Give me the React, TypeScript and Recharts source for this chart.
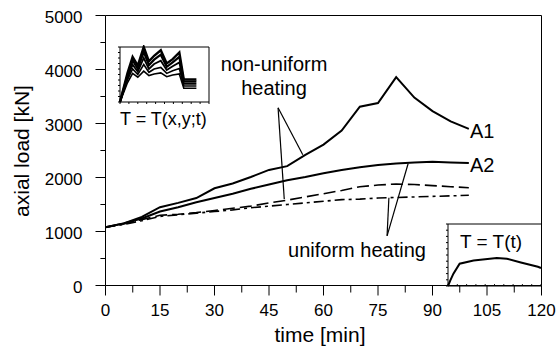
import { LineChart, Line, XAxis, YAxis, ReferenceLine } from "recharts";

// main chart: axial load of the two columns
const time = [0, 5, 10, 15, 20, 25, 30, 35, 40, 45, 50, 55, 60, 65, 70, 75, 80, 85, 90, 95, 100];
const nonUniformA1 = [1080, 1150, 1270, 1450, 1530, 1620, 1800, 1890, 2010, 2140, 2210, 2420, 2610, 2870, 3310, 3380, 3860, 3480, 3230, 3040, 2900];
const nonUniformA2 = [1080, 1150, 1240, 1370, 1450, 1540, 1620, 1700, 1790, 1870, 1950, 2010, 2080, 2140, 2190, 2230, 2260, 2280, 2290, 2280, 2270];
const uniformA1 = [1080, 1140, 1220, 1300, 1320, 1350, 1390, 1430, 1470, 1530, 1580, 1640, 1700, 1760, 1830, 1860, 1880, 1870, 1850, 1830, 1810];
const uniformA2 = [1080, 1130, 1200, 1280, 1310, 1340, 1370, 1400, 1440, 1470, 1500, 1530, 1560, 1590, 1600, 1620, 1630, 1640, 1650, 1660, 1670];

const xTicks = [0, 7.5, 15, 22.5, 30, 37.5, 45, 52.5, 60, 67.5, 75, 82.5, 90, 97.5, 105, 112.5, 120];
const yTicks = [0, 500, 1000, 1500, 2000, 2500, 3000, 3500, 4000, 4500, 5000];

// inset 1: temperature T(x,y;t), five fibres
const insetTime = [0, 10, 17, 24, 32, 39, 46, 55, 63, 71, 80, 86, 103];
const fibre1 = [0, 52, 82, 66, 100, 74, 84, 94, 70, 78, 90, 41, 41];
const fibre2 = [0, 48, 76, 60, 91, 67, 77, 86, 64, 72, 82, 37, 37];
const fibre3 = [0, 44, 68, 55, 80, 60, 69, 75, 58, 65, 72, 33, 33];
const fibre4 = [0, 40, 60, 50, 68, 54, 60, 63, 52, 57, 61, 29, 29];
const fibre5 = [0, 35, 52, 45, 56, 48, 51, 53, 46, 49, 51, 25, 25];

// inset 2: uniform temperature T(t)
const uniformTime = [0, 3, 7, 15, 33, 63, 76, 94, 116, 120];
const uniformTemp = [0, 9, 20, 36, 41, 45, 44, 38, 31, 29];

const insetTicks = [0, 12, 24, 36, 48, 60, 72, 84, 96, 108, 120];
const insetYTicks = [0, 10, 20, 30, 40, 50, 60, 70, 80, 90, 100];

const mainData = time.map((t, i) => ({
  t,
  a1: nonUniformA1[i],
  a2: nonUniformA2[i],
  u1: uniformA1[i],
  u2: uniformA2[i],
}));
const insetData = insetTime.map((t, i) => ({
  t,
  f1: fibre1[i],
  f2: fibre2[i],
  f3: fibre3[i],
  f4: fibre4[i],
  f5: fibre5[i],
}));
const uniformData = uniformTime.map((t, i) => ({ t, T: uniformTemp[i] }));

const FONT = "'Liberation Sans', Arial, sans-serif";

// tick marks are drawn as reference segments below / left of the axes
const X_MAJOR = 185; // ~10px in kN
const X_MINOR = 130;
const Y_MAJOR = 2.75; // ~10px in min
const Y_MINOR = 1.4;

const renderXTick = (props: any) => {
  const { x, y, payload } = props;
  if (payload.value % 15 !== 0) return <g />;
  return (
    <text x={x} y={y + 30} textAnchor="middle" fontSize={17} fill="#000" fontFamily={FONT}>
      {payload.value}
    </text>
  );
};

const renderYTick = (props: any) => {
  const { x, y, payload } = props;
  if (payload.value % 1000 !== 0) return <g />;
  return (
    <text x={x - 23} y={y + 7} textAnchor="end" fontSize={17} fill="#000" fontFamily={FONT}>
      {payload.value}
    </text>
  );
};

function FibreInset() {
  return (
    <div style={{ position: "absolute", left: 114, top: 45 }}>
      <LineChart width={97} height={61} data={insetData} margin={{ top: 2, right: 2, left: 0, bottom: 0 }}>
        <XAxis dataKey="t" type="number" domain={[0, 120]} height={4} tick={false} tickLine={false} axisLine={{ stroke: "#000" }} />
        <YAxis type="number" domain={[0, 100]} width={6} tick={false} tickLine={false} axisLine={{ stroke: "#000" }} />
        <ReferenceLine y={100} stroke="#000" />
        <ReferenceLine x={120} stroke="#000" />
        {insetTicks.map((t) => (
          <ReferenceLine key={`it${t}`} segment={[{ x: t, y: 0 }, { x: t, y: -3.6 }]} ifOverflow="visible" stroke="#000" />
        ))}
        {insetYTicks.map((v) => (
          <ReferenceLine key={`iv${v}`} segment={[{ x: 0, y: v }, { x: -2.7, y: v }]} ifOverflow="visible" stroke="#000" />
        ))}
        <Line dataKey="f5" stroke="#000" strokeWidth={1.6} dot={false} isAnimationActive={false} />
        <Line dataKey="f4" stroke="#000" strokeWidth={1.6} dot={false} isAnimationActive={false} />
        <Line dataKey="f3" stroke="#000" strokeWidth={1.8} dot={false} isAnimationActive={false} />
        <Line dataKey="f2" stroke="#000" strokeWidth={2.2} dot={false} isAnimationActive={false} />
        <Line dataKey="f1" stroke="#000" strokeWidth={2.4} dot={false} isAnimationActive={false} />
      </LineChart>
    </div>
  );
}

function UniformInset() {
  return (
    <div style={{ position: "absolute", left: 442, top: 222 }}>
      <LineChart width={100} height={68} data={uniformData} margin={{ top: 2, right: 1, left: 0, bottom: 0 }}>
        <XAxis dataKey="t" type="number" domain={[0, 120]} height={4} tick={false} tickLine={false} axisLine={{ stroke: "#000" }} />
        <YAxis type="number" domain={[0, 100]} width={6} tick={false} tickLine={false} axisLine={{ stroke: "#000" }} />
        <ReferenceLine y={100} stroke="#000" />
        {insetYTicks.map((v) => (
          <ReferenceLine key={`uv${v}`} segment={[{ x: 0, y: v }, { x: -2.6, y: v }]} ifOverflow="visible" stroke="#000" />
        ))}
        {insetTicks.map((t) => (
          <ReferenceLine key={`ut${t}`} segment={[{ x: t, y: 0 }, { x: t, y: 3 }]} stroke="#000" />
        ))}
        <Line dataKey="T" stroke="#000" strokeWidth={2} dot={false} isAnimationActive={false} />
      </LineChart>
    </div>
  );
}

export default function App() {
  return (
    <div style={{ position: "absolute", left: 0, top: 0, width: 556, height: 352, background: "#fff", fontFamily: FONT }}>
      <LineChart width={556} height={352} data={mainData} margin={{ top: 15.5, right: 14.5, left: 0, bottom: 0 }}>
        <XAxis
          dataKey="t"
          type="number"
          domain={[0, 120]}
          ticks={xTicks}
          interval={0}
          height={66.5}
          tickSize={0}
          tickMargin={0}
          tickLine={false}
          tick={renderXTick}
          axisLine={{ stroke: "#000" }}
        />
        <YAxis
          type="number"
          domain={[0, 5000]}
          ticks={yTicks}
          interval={0}
          width={105.5}
          tickSize={0}
          tickMargin={0}
          tickLine={false}
          tick={renderYTick}
          axisLine={{ stroke: "#000" }}
        />
        <ReferenceLine y={5000} stroke="#000" />
        <ReferenceLine x={120} stroke="#000" />

        {xTicks.map((t) => (
          <ReferenceLine
            key={`xt${t}`}
            segment={[{ x: t, y: 0 }, { x: t, y: t % 15 === 0 ? -X_MAJOR : -X_MINOR }]}
            ifOverflow="visible"
            stroke="#000"
          />
        ))}
        {yTicks.map((v) => (
          <ReferenceLine
            key={`yt${v}`}
            segment={[{ x: 0, y: v }, { x: v % 1000 === 0 ? -Y_MAJOR : -Y_MINOR, y: v }]}
            ifOverflow="visible"
            stroke="#000"
          />
        ))}

        <ReferenceLine segment={[{ x: 47.5, y: 3290 }, { x: 54.3, y: 2420 }]} stroke="#000" strokeWidth={1.2} />
        <ReferenceLine segment={[{ x: 47.5, y: 3290 }, { x: 49.2, y: 1600 }]} stroke="#000" strokeWidth={1.2} />
        <ReferenceLine segment={[{ x: 77.5, y: 920 }, { x: 83.3, y: 2260 }]} stroke="#000" strokeWidth={1.2} />
        <ReferenceLine segment={[{ x: 77.5, y: 920 }, { x: 78, y: 1625 }]} stroke="#000" strokeWidth={1.2} />

        <Line dataKey="u2" stroke="#000" strokeWidth={1.6} strokeDasharray="10 4 3 4" dot={false} isAnimationActive={false} />
        <Line dataKey="u1" stroke="#000" strokeWidth={1.6} strokeDasharray="12 5" dot={false} isAnimationActive={false} />
        <Line dataKey="a2" stroke="#000" strokeWidth={2} dot={false} isAnimationActive={false} />
        <Line dataKey="a1" stroke="#000" strokeWidth={2} dot={false} isAnimationActive={false} />
      </LineChart>

      <FibreInset />
      <UniformInset />

      <svg width={556} height={352} style={{ position: "absolute", left: 0, top: 0, pointerEvents: "none" }} fontFamily={FONT} fill="#000">
        <text x={320} y={342} textAnchor="middle" fontSize={21}>time [min]</text>
        <text x={29} y={151} textAnchor="middle" fontSize={21} transform="rotate(-90 29 151)">axial load [kN]</text>
        <text x={274} y={71} textAnchor="middle" fontSize={20}>non-uniform</text>
        <text x={274} y={95} textAnchor="middle" fontSize={20}>heating</text>
        <text x={357} y={257} textAnchor="middle" fontSize={20}>uniform heating</text>
        <text x={470} y={138} fontSize={20}>A1</text>
        <text x={470} y={172} fontSize={20}>A2</text>
        <text x={120} y={125} fontSize={18}>T = T(x,y;t)</text>
        <text x={460} y={248} fontSize={19}>T = T(t)</text>
      </svg>
    </div>
  );
}
